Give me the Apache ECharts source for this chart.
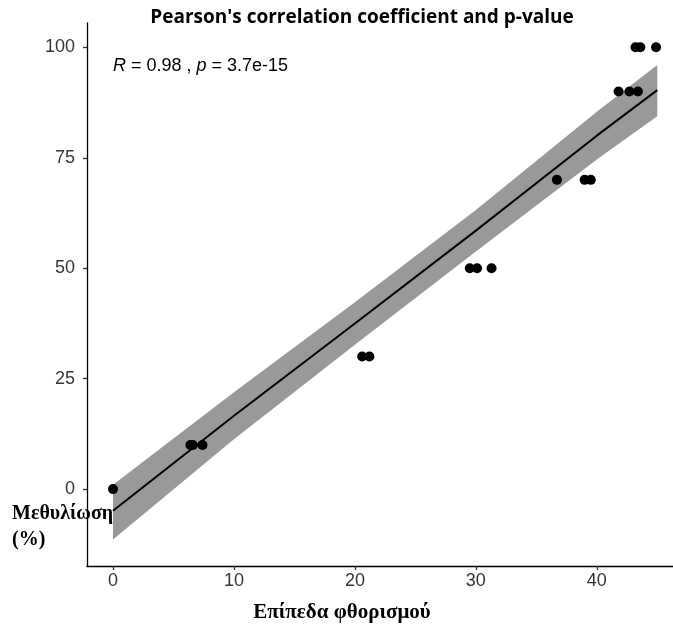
<!DOCTYPE html>
<html>
<head>
<meta charset="utf-8">
<script src="https://cdn.jsdelivr.net/npm/echarts@6/dist/echarts.min.js"></script>
<style>
html,body{margin:0;padding:0;background:#fff;}
#chart{width:673px;height:635px;}
</style>
</head>
<body>
<div id="chart"></div>
<script>
// Observed points: fluorescence level (x) vs methylation % (y)
const pointX = [0, 6.4, 6.6, 7.4, 20.6, 21.2, 29.5, 30.1, 31.3, 36.7, 39.0, 39.5, 41.8, 42.7, 43.4, 43.2, 43.6, 44.9];
const pointY = [0, 10, 10, 10, 30, 30, 50, 50, 50, 70, 70, 70, 90, 90, 90, 100, 100, 100];

// Fitted regression line and confidence band
const fitX   = [0, 10, 20, 30, 40, 45];
const fitY   = [-4.9, 16.6, 37.5, 58.5, 80.0, 90.3];
const bandLo = [-11.4, 11.3, 32.7, 53.8, 74.6, 84.4];
const bandHi = [1.0, 21.9, 42.3, 63.2, 85.4, 96.0];

const xTicks = [0, 10, 20, 30, 40];
const yTicks = [0, 25, 50, 75, 100];

const titleText = "Pearson's correlation coefficient and p-value";
const xTitle = "Επίπεδα φθορισμού";
const yTitle = "Μεθυλίωση\n(%)";

const chart = echarts.init(document.getElementById('chart'), null, {renderer: 'canvas'});

const axisText = {color: '#363636', fontFamily: 'Liberation Sans', fontSize: 18};

chart.setOption({
  animation: false,
  backgroundColor: '#ffffff',
  title: {
    text: titleText,
    left: 357, top: 3, textAlign: 'center',
    textStyle: {fontFamily: 'Open Sans', fontWeight: 'bold', fontSize: 19, color: '#000'}
  },
  grid: {left: 87, top: 23, right: 0, bottom: 69, containLabel: false},
  xAxis: {
    type: 'value', min: -2.15, max: 46.3,
    splitLine: {show: false},
    axisLine: {show: true, onZero: false, lineStyle: {color: '#000', width: 1.3}},
    axisTick: {show: true, length: 4, customValues: xTicks, lineStyle: {color: '#333', width: 1.3}},
    axisLabel: Object.assign({customValues: xTicks, margin: 6}, axisText)
  },
  yAxis: {
    type: 'value', min: -17.4, max: 105.5,
    splitLine: {show: false},
    axisLine: {show: true, onZero: false, lineStyle: {color: '#000', width: 1.3}},
    axisTick: {show: true, length: 4, customValues: yTicks, lineStyle: {color: '#333', width: 1.3}},
    axisLabel: Object.assign({customValues: yTicks, margin: 12}, axisText)
  },
  graphic: [
    {type: 'text', left: 12, top: 501, style: {text: yTitle, font: 'bold 20px "Liberation Serif"', fill: '#000', lineHeight: 26}},
    {type: 'text', x: 342, y: 613, style: {text: xTitle, font: 'bold 21px "Liberation Serif"', fill: '#000', align: 'center', verticalAlign: 'middle'}},
    {type: 'text', x: 113, y: 66, style: {
      text: '{i|R} = 0.98 , {i|p} = 3.7e-15',
      verticalAlign: 'middle',
      rich: {i: {fontStyle: 'italic', fontFamily: 'Liberation Sans', fontSize: 18, fill: '#000', color: '#000'}},
      fontFamily: 'Liberation Sans', fontSize: 18, fill: '#000'
    }}
  ],
  series: [
    {
      type: 'custom',
      name: 'band',
      data: fitX.map((x, i) => [x, bandLo[i], bandHi[i]]),
      encode: {x: 0, y: [1, 2]},
      z: 1,
      renderItem: function (params, api) {
        if (params.dataIndex !== 0) return null;
        const pts = [];
        for (let i = 0; i < fitX.length; i++) pts.push(api.coord([fitX[i], bandHi[i]]));
        for (let i = fitX.length - 1; i >= 0; i--) pts.push(api.coord([fitX[i], bandLo[i]]));
        return {type: 'polygon', shape: {points: pts}, style: {fill: '#999999'}};
      }
    },
    {
      type: 'line',
      name: 'fit',
      data: fitX.map((x, i) => [x, fitY[i]]),
      showSymbol: false,
      lineStyle: {color: '#000', width: 2},
      z: 2
    },
    {
      type: 'scatter',
      name: 'points',
      data: pointX.map((x, i) => [x, pointY[i]]),
      symbol: 'circle',
      symbolSize: 10,
      itemStyle: {color: '#000', opacity: 1},
      z: 3
    }
  ]
});
</script>
</body>
</html>
